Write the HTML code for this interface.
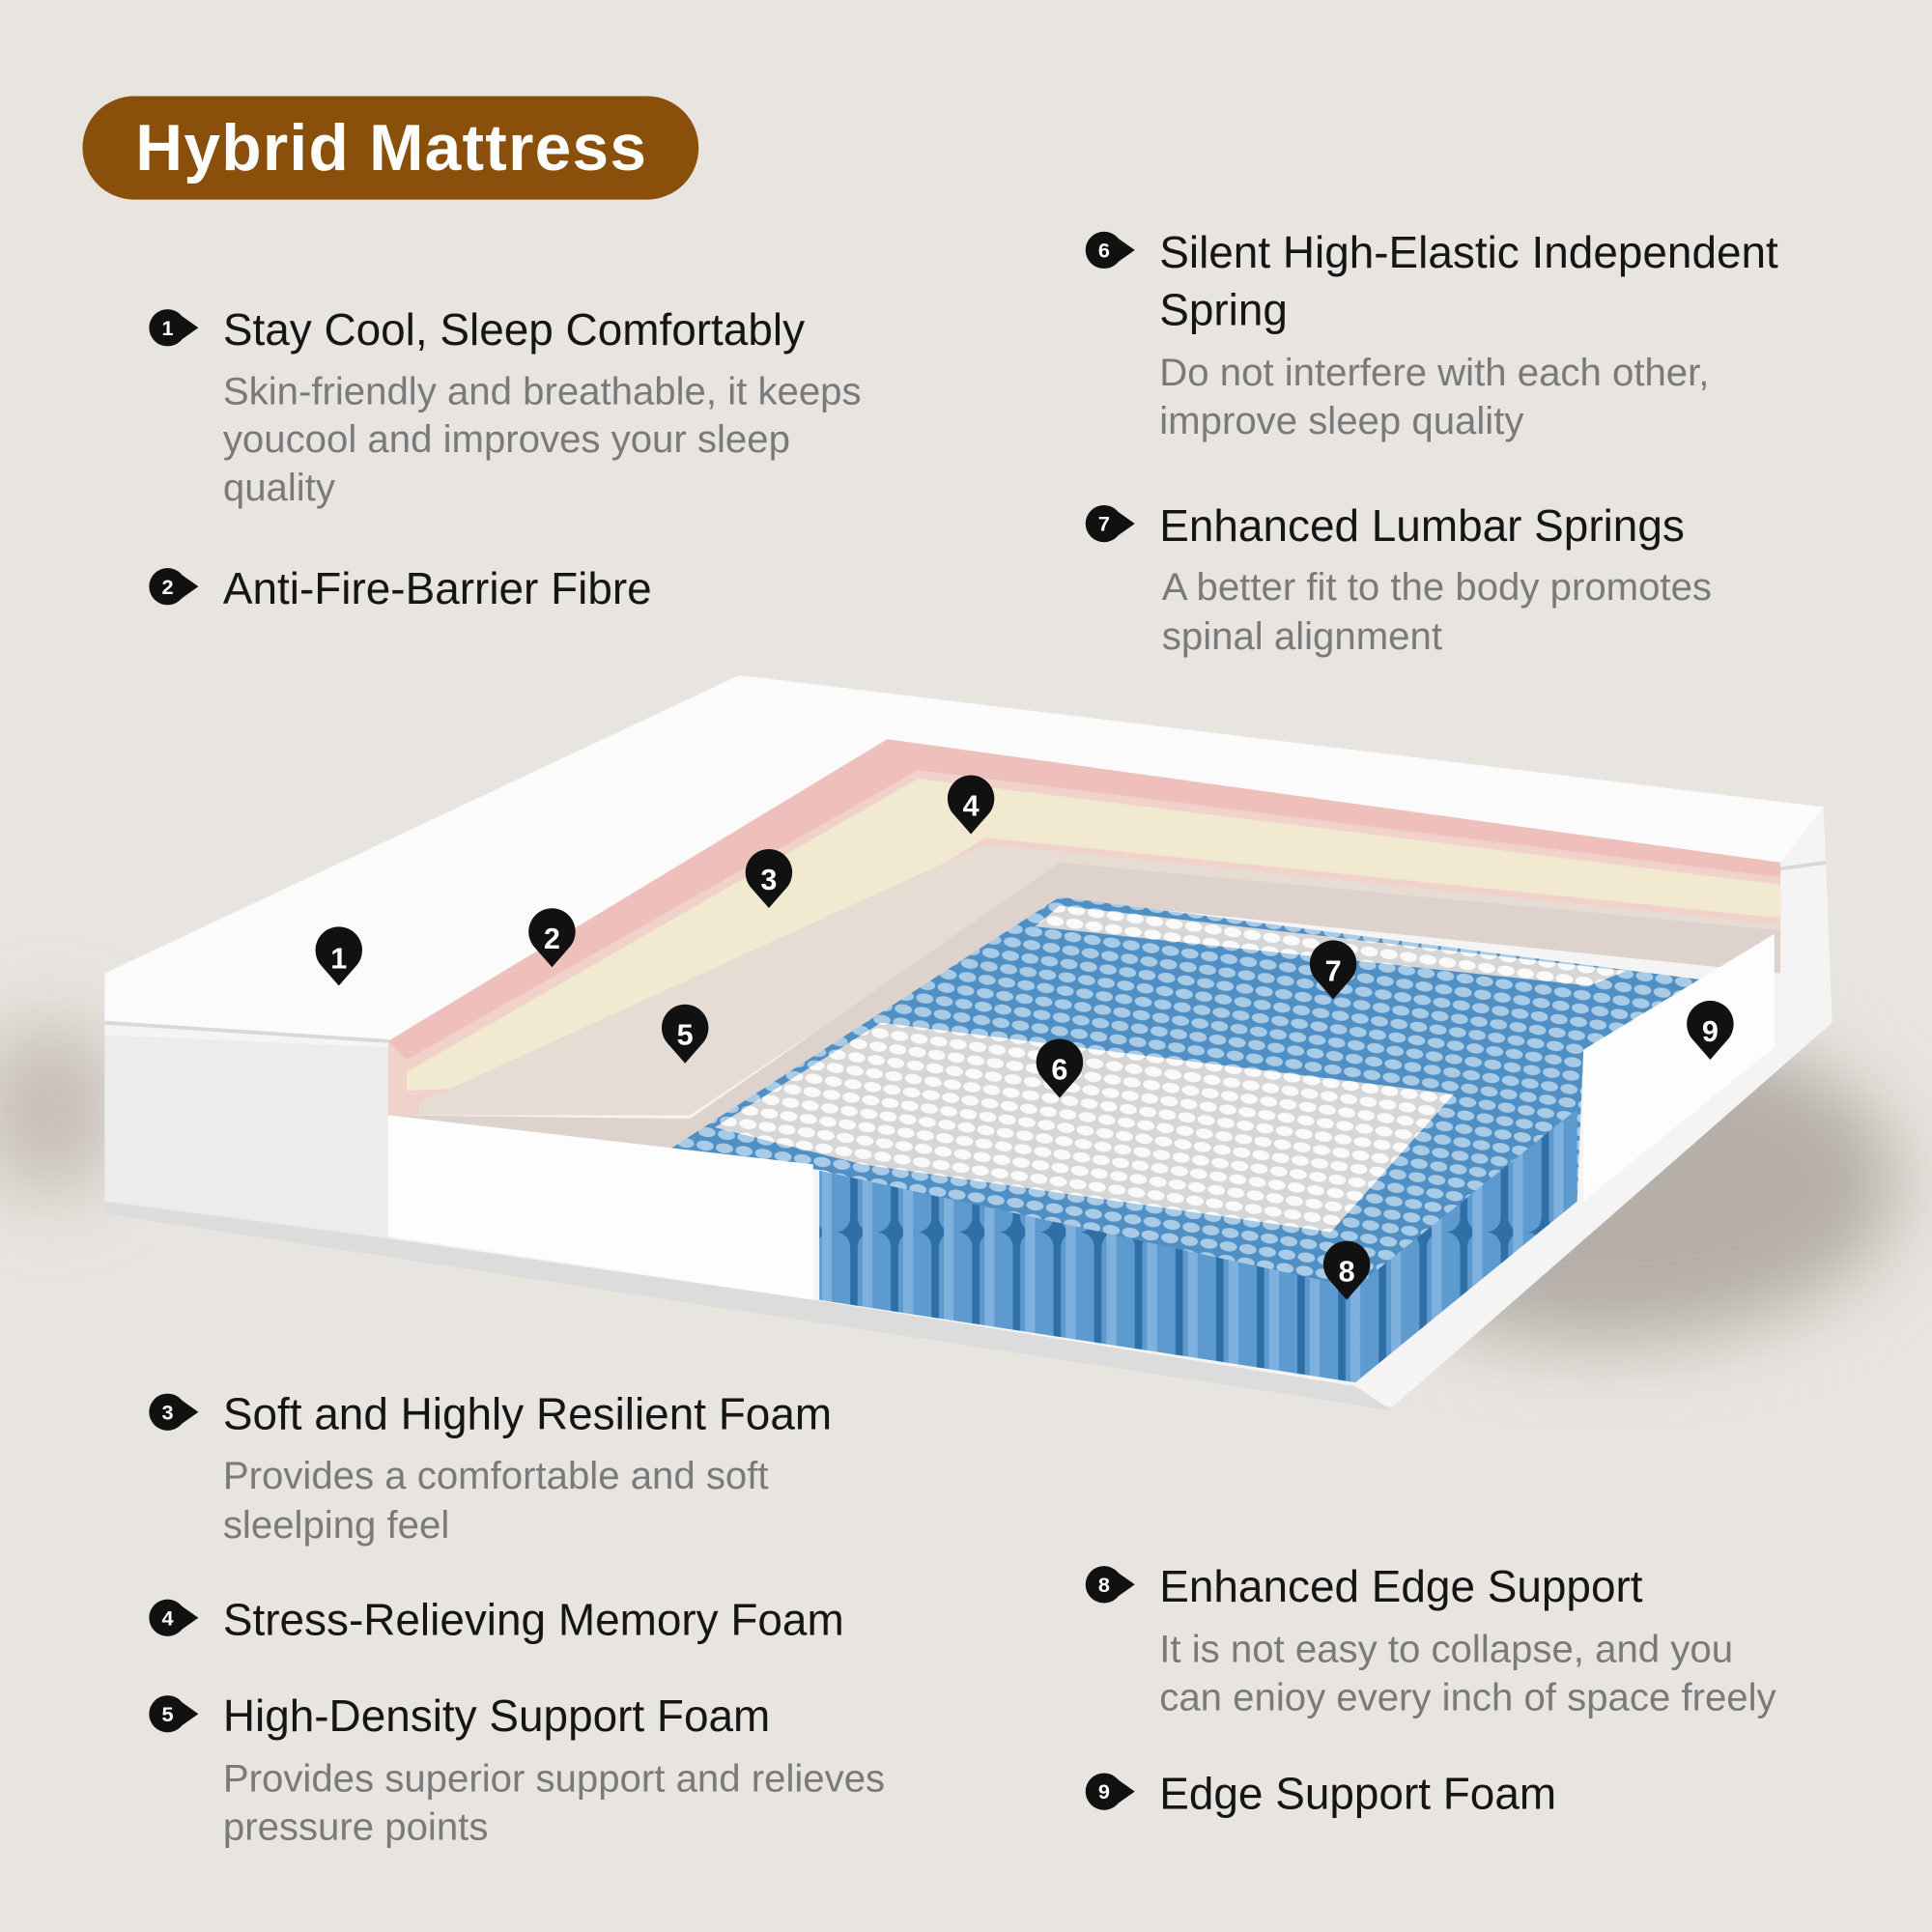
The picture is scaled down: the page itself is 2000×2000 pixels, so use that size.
<!DOCTYPE html>
<html><head><meta charset="utf-8"><style>
html,body{margin:0;padding:0;background:#e8e4df;}
svg{display:block;}
text{font-family:"Liberation Sans","DejaVu Sans",sans-serif;}
.h{font-size:36px;fill:#151515;}
.d{font-size:31.5px;fill:#7a7a7a;}
.n{font-size:17px;font-weight:bold;fill:#fff;text-anchor:middle;}
.p{font-size:24px;font-weight:bold;fill:#fff;text-anchor:middle;}
</style></head><body>
<svg width="2000" height="2000" viewBox="0 0 1568 1568" xmlns="http://www.w3.org/2000/svg">
<defs>
<filter id="bl" x="-50%" y="-50%" width="200%" height="200%"><feGaussianBlur stdDeviation="30"/></filter>
<pattern id="bs" width="16" height="11" patternUnits="userSpaceOnUse" patternTransform="rotate(8)">
<rect width="16" height="11" fill="#4f8fc4"/><ellipse cx="8" cy="5" rx="7" ry="4" fill="#a9cbe6"/></pattern>
<pattern id="ws" width="16" height="11" patternUnits="userSpaceOnUse" patternTransform="rotate(8)">
<rect width="16" height="11" fill="#d6d6d6"/><ellipse cx="8" cy="5" rx="7" ry="4" fill="#fafafa"/></pattern>
<pattern id="cy" width="33" height="200" patternUnits="userSpaceOnUse">
<rect width="33" height="200" fill="#2f6fa6"/><rect x="3" width="27" height="200" rx="12" fill="#5d9ad0"/><rect x="7" width="8" height="200" fill="#7fb1de"/></pattern>
</defs>
<rect width="1568" height="1568" fill="#e8e4df"/>
<ellipse cx="1300" cy="960" rx="240" ry="130" fill="#b5afa8" filter="url(#bl)"/>
<ellipse cx="40" cy="900" rx="60" ry="70" fill="#c6bfb8" filter="url(#bl)"/>
<rect x="67" y="78" width="500" height="84" rx="42" fill="#8b4f0c"/>
<text x="110" y="138" style="font-size:53px;font-weight:bold;fill:#fff;letter-spacing:1px">Hybrid Mattress</text>

<polygon points="85,790 600,548 1480,655 1487,830 1130,1142 85,975" fill="#f4f4f4"/>
<polygon points="85,840 315,850 315,1005 85,975" fill="#ececec"/>
<polygon points="85,975 315,1005 660,1055 1100,1125 1130,1145 1100,1140 85,985" fill="#dcdcdc"/>
<polygon points="85,790 600,548 1480,655 1445,700 720,600 315,845 85,830" fill="#fbfbfb"/>
<line x1="85" y1="830" x2="315" y2="845" stroke="#d8d8d8" stroke-width="3"/>
<line x1="1445" y1="705" x2="1482" y2="700" stroke="#d8d8d8" stroke-width="3"/>
<polygon points="315,845 720,600 1445,700 1445,760 860,700 560,905 315,905" fill="#f0d2ca"/>
<polygon points="315,845 720,600 1445,700 1445,712 745,625 330,860" fill="#efc0bb"/>
<polygon points="330,870 745,632 1445,718 1445,745 800,680 470,880 330,885" fill="#f2ead0"/>
<polygon points="340,895 800,685 1445,750 1445,770 860,705 560,905 340,905" fill="#e6dcd4"/>
<polygon points="315,905 560,908 860,700 1445,755 1445,790 860,730 555,935 315,910" fill="#ddd3cc"/>
<polygon points="540,935 860,728 1380,795 1285,855 1280,975 1100,1120 670,950" fill="url(#bs)"/>
<polygon points="860,735 1320,788 1290,800 840,752" fill="url(#ws)"/>
<polygon points="580,915 715,830 1180,888 1080,1000 700,945" fill="url(#ws)"/>
<polygon points="665,950 1100,1045 1100,1122 665,1055" fill="url(#cy)"/>
<polygon points="1100,1045 1280,900 1280,975 1100,1122" fill="url(#cy)"/>
<polygon points="315,905 660,945 660,1055 315,1003" fill="#fdfdfd"/>
<polygon points="1285,852 1440,758 1440,850 1285,975" fill="#fdfdfd"/>

<g>
<path d="M275,800 l-14,-16 a19,19 0 1 1 28,0 z" fill="#111"/><text class="p" x="275" y="786">1</text>
<path d="M448,785 l-14,-16 a19,19 0 1 1 28,0 z" fill="#111"/><text class="p" x="448" y="770">2</text>
<path d="M624,737 l-14,-16 a19,19 0 1 1 28,0 z" fill="#111"/><text class="p" x="624" y="722">3</text>
<path d="M788,677 l-14,-16 a19,19 0 1 1 28,0 z" fill="#111"/><text class="p" x="788" y="662">4</text>
<path d="M556,863 l-14,-16 a19,19 0 1 1 28,0 z" fill="#111"/><text class="p" x="556" y="848">5</text>
<path d="M860,891 l-14,-16 a19,19 0 1 1 28,0 z" fill="#111"/><text class="p" x="860" y="876">6</text>
<path d="M1082,811 l-14,-16 a19,19 0 1 1 28,0 z" fill="#111"/><text class="p" x="1082" y="796">7</text>
<path d="M1093,1055 l-14,-16 a19,19 0 1 1 28,0 z" fill="#111"/><text class="p" x="1093" y="1040">8</text>
<path d="M1388,860 l-14,-16 a19,19 0 1 1 28,0 z" fill="#111"/><text class="p" x="1388" y="845">9</text>
</g>

<g>
<g transform="translate(136,266)"><circle r="15" fill="#111"/><path d="M8,-12 L25,0 L8,12z" fill="#111"/><text class="n" y="6">1</text></g>
<g transform="translate(136,476)"><circle r="15" fill="#111"/><path d="M8,-12 L25,0 L8,12z" fill="#111"/><text class="n" y="6">2</text></g>
<g transform="translate(136,1146)"><circle r="15" fill="#111"/><path d="M8,-12 L25,0 L8,12z" fill="#111"/><text class="n" y="6">3</text></g>
<g transform="translate(136,1313)"><circle r="15" fill="#111"/><path d="M8,-12 L25,0 L8,12z" fill="#111"/><text class="n" y="6">4</text></g>
<g transform="translate(136,1391)"><circle r="15" fill="#111"/><path d="M8,-12 L25,0 L8,12z" fill="#111"/><text class="n" y="6">5</text></g>
<g transform="translate(896,203)"><circle r="15" fill="#111"/><path d="M8,-12 L25,0 L8,12z" fill="#111"/><text class="n" y="6">6</text></g>
<g transform="translate(896,425)"><circle r="15" fill="#111"/><path d="M8,-12 L25,0 L8,12z" fill="#111"/><text class="n" y="6">7</text></g>
<g transform="translate(896,1286)"><circle r="15" fill="#111"/><path d="M8,-12 L25,0 L8,12z" fill="#111"/><text class="n" y="6">8</text></g>
<g transform="translate(896,1454)"><circle r="15" fill="#111"/><path d="M8,-12 L25,0 L8,12z" fill="#111"/><text class="n" y="6">9</text></g>
</g>

<text class="h" x="181" y="280">Stay Cool, Sleep Comfortably</text>
<text class="d" x="181" y="328">Skin-friendly and breathable, it keeps</text>
<text class="d" x="181" y="367">youcool and improves your sleep</text>
<text class="d" x="181" y="406">quality</text>
<text class="h" x="181" y="490">Anti-Fire-Barrier Fibre</text>

<text class="h" x="941" y="217">Silent High-Elastic Independent</text>
<text class="h" x="941" y="264">Spring</text>
<text class="d" x="941" y="313">Do not interfere with each other,</text>
<text class="d" x="941" y="352">improve sleep quality</text>
<text class="h" x="941" y="439">Enhanced Lumbar Springs</text>
<text class="d" x="943" y="487">A better fit to the body promotes</text>
<text class="d" x="943" y="527">spinal alignment</text>

<text class="h" x="181" y="1160">Soft and Highly Resilient Foam</text>
<text class="d" x="181" y="1208">Provides a comfortable and soft</text>
<text class="d" x="181" y="1248">sleelping feel</text>
<text class="h" x="181" y="1327">Stress-Relieving Memory Foam</text>
<text class="h" x="181" y="1405">High-Density Support Foam</text>
<text class="d" x="181" y="1454">Provides superior support and relieves</text>
<text class="d" x="181" y="1493">pressure points</text>

<text class="h" x="941" y="1300">Enhanced Edge Support</text>
<text class="d" x="941" y="1349">It is not easy to collapse, and you</text>
<text class="d" x="941" y="1388">can enioy every inch of space freely</text>
<text class="h" x="941" y="1468">Edge Support Foam</text>
</svg>
</body></html>
